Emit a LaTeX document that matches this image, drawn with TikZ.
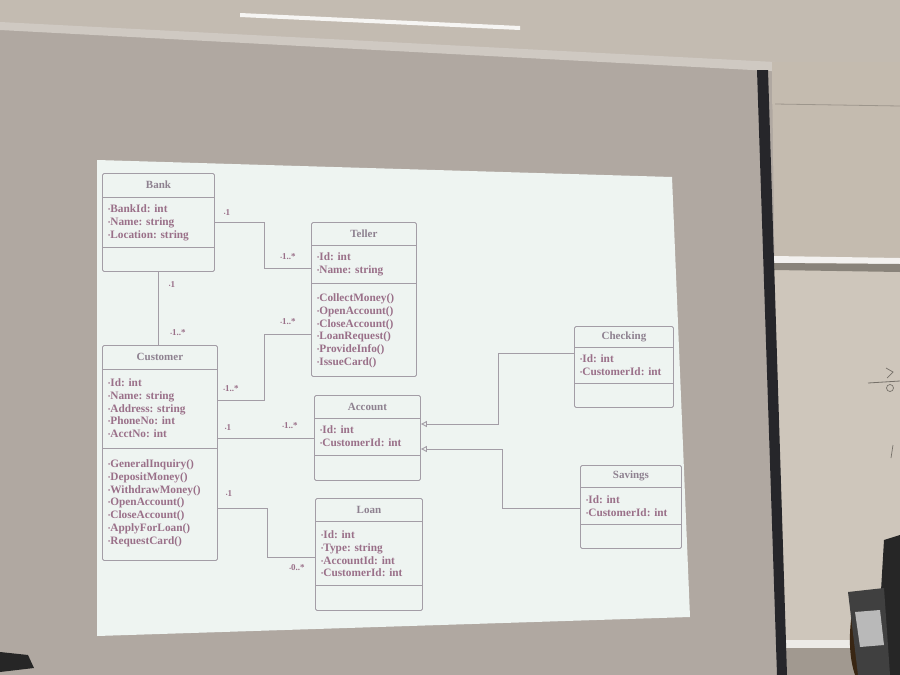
\documentclass[tikz,border=0pt]{standalone}
\usepackage{fontspec}
\setmainfont{Liberation Serif}
\usetikzlibrary{arrows.meta,calc}
\definecolor{wallc}{HTML}{B0A8A1}
\definecolor{ceilc}{HTML}{C3BBB1}
\definecolor{soffc}{HTML}{CFC9C2}
\definecolor{rwall}{HTML}{C4BBAF}
\definecolor{boardc}{HTML}{CEC6BB}
\definecolor{slidec}{HTML}{EEF4F1}
\definecolor{linec}{HTML}{A39DA6}
\definecolor{txtc}{HTML}{9A7089}
\definecolor{ttlc}{HTML}{8E8190}
\definecolor{barc}{HTML}{26262A}
\newcommand{\bul}{\raisebox{0.2ex}{\scalebox{0.55}{•}}}
\tikzset{
  cls/.style={draw=linec, line width=0.9pt, rounded corners=1.5pt, inner sep=0pt, fill=slidec},
  divline/.style={draw=linec, line width=0.9pt},
  ttl/.style={font=\fontsize{11}{12}\selectfont\bfseries, text=ttlc, inner sep=0pt},
  attr/.style={font=\fontsize{11.3}{12.8}\selectfont\bfseries, text=txtc, align=left, inner sep=0pt, anchor=north west},
  mult/.style={font=\fontsize{9}{10}\selectfont\bfseries, text=txtc, inner sep=0pt},
  conn/.style={draw=linec, line width=0.9pt},
  gen/.style={conn, -{Triangle[open, length=6pt, width=6pt]}}
}
\newcommand{\umlcls}[8]{%
  \node[cls, minimum width=#4pt, minimum height=#5pt, anchor=north west] (#1) at (#2,#3) {};
  \node[ttl] (#1-t) at ($(#1.north)+(0,#7/2)$) {#6};
  \draw[divline] ($(#1.north west)+(0,#7)$) -- ($(#1.north east)+(0,#7)$);
  \draw[divline] ($(#1.north west)+(0,#8)$) -- ($(#1.north east)+(0,#8)$);
}
\newcommand{\umltext}[4]{\node[attr] (#1) at ($(#2.north west)+(6,#3)$) {#4};}
\begin{document}
\begin{tikzpicture}[x=1pt,y=-1pt]
\useasboundingbox (0,0) rectangle (900,675);
% background
\fill[wallc] (0,0) rectangle (900,675);
\fill[ceilc] (0,0) -- (900,0) -- (900,105) -- (790,72) -- (0,26) -- cycle;
\fill[soffc] (0,22) -- (775,62) -- (790,72) -- (0,30) -- cycle;
\fill[white!85!ceilc] (240,13) -- (520,26) -- (520,30) -- (240,17) -- cycle;
\fill[rwall] (772,72) -- (900,100) -- (900,675) -- (780,675) -- cycle;
\fill[rwall] (772,62) -- (900,62) -- (900,104) -- (772,104) -- cycle;
\draw[rwall!80!black, line width=0.8pt] (775,104) -- (900,106);
\fill[boardc] (774,268) -- (900,268) -- (900,640) -- (786,640) -- cycle;
\fill[white!80!rwall] (773,256) -- (900,258) -- (900,264) -- (774,263) -- cycle;
\fill[rwall!70!black] (774,263) -- (900,264) -- (900,272) -- (774,270) -- cycle;
\fill[white!70!rwall] (786,640) -- (900,640) -- (900,648) -- (786,648) -- cycle;
\fill[rwall!82!black] (786,648) -- (900,648) -- (900,675) -- (786,675) -- cycle;
\draw[rwall!60!black, line width=0.8pt] (868,383) -- (900,381);
\draw[rwall!60!black, line width=0.7pt] (886,368) -- (893,372) -- (887,378);
\draw[rwall!60!black, line width=0.7pt] (890,388) circle (3.5);
\draw[rwall!60!black, line width=0.7pt] (893,445) -- (891,458);
\fill[barc] (757,70) -- (768,70) -- (787,675) -- (777,675) -- cycle;
% person with phone
\fill[black!85] (884,540) -- (900,535) -- (900,675) -- (876,675) -- cycle;
\fill[black!70!brown] (852,612) .. controls (848,640) and (850,660) .. (855,675) -- (876,675) -- (880,630) -- cycle;
\fill[black!75] (848,592) -- (884,588) -- (890,675) -- (858,675) -- cycle;
\fill[gray!55] (855,612) -- (880,610) -- (884,645) -- (860,647) -- cycle;
\fill[black!85] (0,652) -- (28,655) -- (34,668) -- (0,672) -- cycle;
% slide
\fill[slidec] (97,160) -- (672,177) -- (690,617) -- (97,636) -- cycle;
% classes
\umlcls{bank}{102}{173}{112}{98}{Bank}{24}{74}
\umlcls{teller}{311}{222}{105}{154}{Teller}{23}{61}
\umlcls{customer}{102}{345}{115}{215}{Customer}{24}{103}
\umlcls{account}{314}{395}{106}{85}{Account}{23}{60}
\umlcls{loan}{315}{498}{107}{112}{Loan}{23}{87}
\umlcls{checking}{574}{326}{99}{81}{Checking}{21}{57}
\umlcls{savings}{580}{465}{101}{83}{Savings}{22}{59}
\umltext{bank-a}{bank}{31.5}{\bul BankId: int\\\bul Name: string\\\bul Location: string}
\umltext{teller-a}{teller}{30.5}{\bul Id: int\\\bul Name: string}
\umltext{teller-m}{teller}{71.5}{\bul CollectMoney()\\\bul OpenAccount()\\\bul CloseAccount()\\\bul LoanRequest()\\\bul ProvideInfo()\\\bul IssueCard()}
\umltext{customer-a}{customer}{33.5}{\bul Id: int\\\bul Name: string\\\bul Address: string\\\bul PhoneNo: int\\\bul AcctNo: int}
\umltext{customer-m}{customer}{114.5}{\bul GeneralInquiry()\\\bul DepositMoney()\\\bul WithdrawMoney()\\\bul OpenAccount()\\\bul CloseAccount()\\\bul ApplyForLoan()\\\bul RequestCard()}
\umltext{account-a}{account}{30.5}{\bul Id: int\\\bul CustomerId: int}
\umltext{loan-a}{loan}{32.5}{\bul Id: int\\\bul Type: string\\\bul AccountId: int\\\bul CustomerId: int}
\umltext{checking-a}{checking}{28.5}{\bul Id: int\\\bul CustomerId: int}
\umltext{savings-a}{savings}{30.5}{\bul Id: int\\\bul CustomerId: int}
% connectors
\draw[conn] (bank.east) -- ++(50,0) |- ([yshift=-46pt]teller.north west);
\draw[conn] (bank.south) -- (bank.south |- customer.north);
\draw[conn] ([yshift=-55pt]customer.north east) -- ++(47,0) |- ([yshift=-112pt]teller.north west);
\draw[conn] (customer.east |- account.west) -- (account.west);
\draw[conn] ([yshift=-163pt]customer.north east) -- ++(50,0) |- ([yshift=-59pt]loan.north west);
\draw[gen] ([yshift=-27pt]checking.north west) -- ++(-76,0) |- ([yshift=-29pt]account.north east);
\draw[gen] ([yshift=-43pt]savings.north west) -- ++(-78,0) |- ([yshift=-54pt]account.north east);
% multiplicities
\node[mult] (m1) at (227,213) {\bul 1};
\node[mult] (m2) at (288,257) {\bul 1..*};
\node[mult] (m3) at (172,285) {\bul 1};
\node[mult] (m4) at (178,333) {\bul 1..*};
\node[mult] (m5) at (288,322) {\bul 1..*};
\node[mult] (m6) at (231,389) {\bul 1..*};
\node[mult] (m7) at (228,428) {\bul 1};
\node[mult] (m8) at (290,426) {\bul 1..*};
\node[mult] (m9) at (229,494) {\bul 1};
\node[mult] (m10) at (297,568) {\bul 0..*};
\end{tikzpicture}
\end{document}
